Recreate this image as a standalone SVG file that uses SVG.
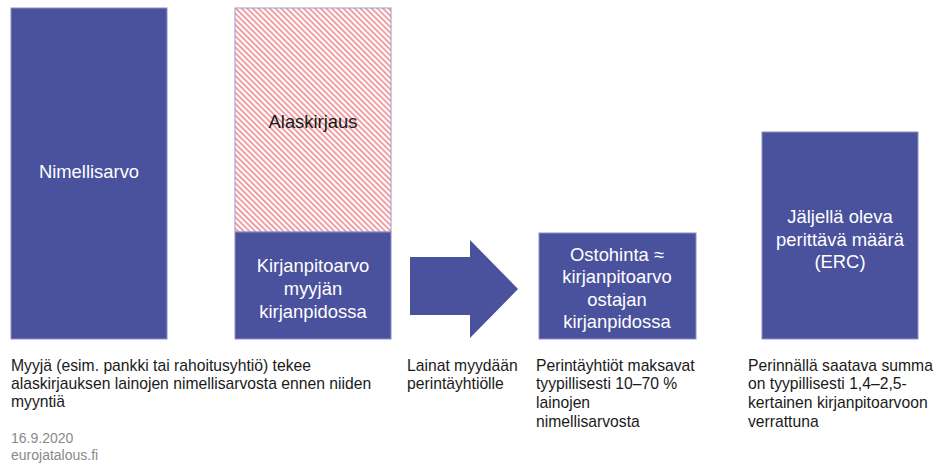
<svg xmlns="http://www.w3.org/2000/svg" width="937" height="465" viewBox="0 0 937 465">
<defs>
<pattern id="hatch" patternUnits="userSpaceOnUse" width="4" height="4" patternTransform="rotate(-45)">
<rect width="4" height="4" fill="#ffffff"/>
<rect x="0" y="0" width="1.6" height="4" fill="#ee8a8f"/>
</pattern>
<style>
.box{fill:#4a519d;stroke:#8c90c6;stroke-width:1}
.wt{font-family:"Liberation Sans",Arial,sans-serif;font-size:18.4px;fill:#ffffff;text-anchor:middle}
.bt{font-family:"Liberation Sans",Arial,sans-serif;font-size:18.4px;fill:#1a1a1a;text-anchor:middle}
.cap{font-family:"Liberation Sans",Arial,sans-serif;font-size:15.7px;fill:#1a1a1a}
.src{font-family:"Liberation Sans",Arial,sans-serif;font-size:14px;fill:#8a8a8a}
</style>
</defs>
<rect width="937" height="465" fill="#ffffff"/>
<g id="nimellisarvo">
<rect class="box" x="11" y="8" width="156" height="331"/>
<text class="wt" x="89" y="178">Nimellisarvo</text>
</g>
<g id="alaskirjaus">
<rect x="235" y="8" width="156" height="224" fill="url(#hatch)" stroke="#9a9ccc" stroke-width="1"/>
<text class="bt" x="313" y="128">Alaskirjaus</text>
</g>
<g id="kirjanpitoarvo">
<rect class="box" x="235" y="232" width="156" height="107"/>
<text class="wt" x="313" y="272">Kirjanpitoarvo</text>
<text class="wt" x="313" y="295">myyjän</text>
<text class="wt" x="313" y="318">kirjanpidossa</text>
</g>
<g id="connectors">
<polygon points="410,257 470,257 470,240 518,289 470,338 470,315 410,315" fill="#4a519d"/>
</g>
<g id="ostohinta">
<rect class="box" x="539" y="233" width="157" height="106"/>
<text class="wt" x="617" y="261">Ostohinta ≈</text>
<text class="wt" x="617" y="283">kirjanpitoarvo</text>
<text class="wt" x="617" y="306">ostajan</text>
<text class="wt" x="617" y="328">kirjanpidossa</text>
</g>
<g id="erc">
<rect class="box" x="762" y="132" width="156" height="207"/>
<text class="wt" x="840" y="223">Jäljellä oleva</text>
<text class="wt" x="840" y="246">perittävä määrä</text>
<text class="wt" x="840" y="268">(ERC)</text>
</g>
<g id="captions">
<text class="cap" x="11" y="371">Myyjä (esim. pankki tai rahoitusyhtiö) tekee</text>
<text class="cap" x="11" y="389">alaskirjauksen lainojen nimellisarvosta ennen niiden</text>
<text class="cap" x="11" y="407">myyntiä</text>
<text class="cap" x="407" y="371">Lainat myydään</text>
<text class="cap" x="407" y="389">perintäyhtiölle</text>
<text class="cap" x="536" y="371">Perintäyhtiöt maksavat</text>
<text class="cap" x="536" y="389">tyypillisesti 10–70 %</text>
<text class="cap" x="536" y="408">lainojen</text>
<text class="cap" x="536" y="427">nimellisarvosta</text>
<text class="cap" x="748" y="371">Perinnällä saatava summa</text>
<text class="cap" x="748" y="389">on tyypillisesti 1,4–2,5-</text>
<text class="cap" x="748" y="408">kertainen kirjanpitoarvoon</text>
<text class="cap" x="748" y="427">verrattuna</text>
<text class="src" x="11" y="443">16.9.2020</text>
<text class="src" x="11" y="460">eurojatalous.fi</text>
</g>
</svg>
